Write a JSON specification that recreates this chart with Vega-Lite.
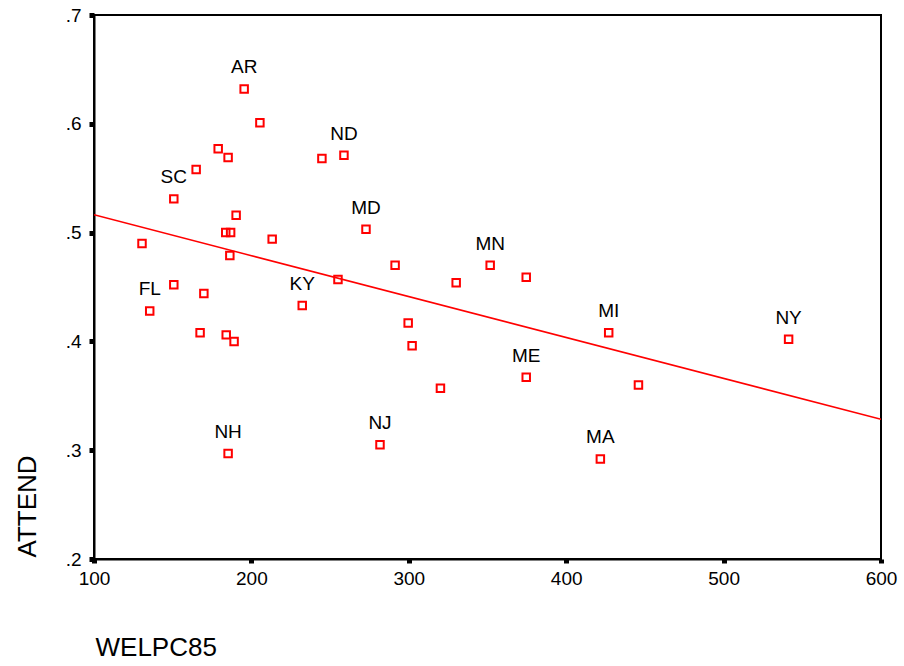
{
  "$schema": "https://vega.github.io/schema/vega-lite/v6.json",
  "width": 787,
  "height": 544,
  "autosize": {"type": "none"},
  "padding": {"left": 94, "top": 15, "right": 23, "bottom": 107},
  "background": "white",
  "config": {
    "view": {"stroke": "black", "strokeWidth": 2},
    "font": "Liberation Sans"
  },
  "data": {
    "values": [
      {"WELPC85": 195.4, "ATTEND": 0.632, "state": "AR"},
      {"WELPC85": 205.4, "ATTEND": 0.601, "state": ""},
      {"WELPC85": 178.9, "ATTEND": 0.577, "state": ""},
      {"WELPC85": 185.2, "ATTEND": 0.569, "state": ""},
      {"WELPC85": 164.9, "ATTEND": 0.558, "state": ""},
      {"WELPC85": 150.7, "ATTEND": 0.531, "state": "SC"},
      {"WELPC85": 244.8, "ATTEND": 0.568, "state": ""},
      {"WELPC85": 258.8, "ATTEND": 0.571, "state": "ND"},
      {"WELPC85": 190.3, "ATTEND": 0.516, "state": ""},
      {"WELPC85": 183.7, "ATTEND": 0.5, "state": ""},
      {"WELPC85": 186.8, "ATTEND": 0.5, "state": ""},
      {"WELPC85": 213.2, "ATTEND": 0.494, "state": ""},
      {"WELPC85": 130.5, "ATTEND": 0.49, "state": ""},
      {"WELPC85": 186.3, "ATTEND": 0.479, "state": ""},
      {"WELPC85": 135.4, "ATTEND": 0.428, "state": "FL"},
      {"WELPC85": 150.7, "ATTEND": 0.452, "state": ""},
      {"WELPC85": 169.8, "ATTEND": 0.444, "state": ""},
      {"WELPC85": 167.4, "ATTEND": 0.408, "state": ""},
      {"WELPC85": 184.0, "ATTEND": 0.406, "state": ""},
      {"WELPC85": 189.0, "ATTEND": 0.4, "state": ""},
      {"WELPC85": 232.3, "ATTEND": 0.433, "state": "KY"},
      {"WELPC85": 255.0, "ATTEND": 0.457, "state": ""},
      {"WELPC85": 185.2, "ATTEND": 0.297, "state": "NH"},
      {"WELPC85": 272.8, "ATTEND": 0.503, "state": "MD"},
      {"WELPC85": 291.3, "ATTEND": 0.47, "state": ""},
      {"WELPC85": 330.1, "ATTEND": 0.454, "state": ""},
      {"WELPC85": 351.7, "ATTEND": 0.47, "state": "MN"},
      {"WELPC85": 374.6, "ATTEND": 0.459, "state": ""},
      {"WELPC85": 299.6, "ATTEND": 0.417, "state": ""},
      {"WELPC85": 302.1, "ATTEND": 0.396, "state": ""},
      {"WELPC85": 427.0, "ATTEND": 0.408, "state": "MI"},
      {"WELPC85": 541.3, "ATTEND": 0.402, "state": "NY"},
      {"WELPC85": 374.6, "ATTEND": 0.367, "state": "ME"},
      {"WELPC85": 445.9, "ATTEND": 0.36, "state": ""},
      {"WELPC85": 421.7, "ATTEND": 0.292, "state": "MA"},
      {"WELPC85": 320.1, "ATTEND": 0.357, "state": ""},
      {"WELPC85": 281.7, "ATTEND": 0.305, "state": "NJ"}
    ]
  },
  "layer": [
    {
      "transform": [{"regression": "ATTEND", "on": "WELPC85", "extent": [100, 600]}],
      "mark": {"type": "line", "color": "#ff0000", "strokeWidth": 1.5, "clip": true},
      "encoding": {
        "x": {"field": "WELPC85", "type": "quantitative", "scale": {"domain": [100, 600], "nice": false, "zero": false}},
        "y": {"field": "ATTEND", "type": "quantitative", "scale": {"domain": [0.2, 0.7], "nice": false, "zero": false}}
      }
    },
    {
      "mark": {"type": "point", "shape": "square", "filled": false, "color": "#ff0000", "strokeWidth": 2, "size": 56, "opacity": 1},
      "encoding": {
        "x": {
          "field": "WELPC85", "type": "quantitative",
          "scale": {"domain": [100, 600], "nice": false, "zero": false},
          "axis": {
            "title": "WELPC85",
            "values": [100, 200, 300, 400, 500, 600],
            "format": "d",
            "grid": false,
            "labelFlush": false,
            "domainColor": "black",
            "domainWidth": 2,
            "tickColor": "black",
            "tickSize": 4,
            "tickWidth": 5,
            "labelFontSize": 19,
            "labelColor": "black",
            "labelPadding": 6,
            "titleFontSize": 26,
            "titleFontWeight": "normal",
            "titleColor": "black",
            "titleX": 1,
            "titleY": 96,
            "titleAlign": "left",
            "titleBaseline": "alphabetic"
          }
        },
        "y": {
          "field": "ATTEND", "type": "quantitative",
          "scale": {"domain": [0.2, 0.7], "nice": false, "zero": false},
          "axis": {
            "title": "ATTEND",
            "values": [0.2, 0.3, 0.4, 0.5, 0.6, 0.7],
            "labelExpr": "substring(format(datum.value, '.1f'), 1)",
            "grid": false,
            "labelFlush": false,
            "domainColor": "black",
            "domainWidth": 2,
            "tickColor": "black",
            "tickSize": 5,
            "tickWidth": 5,
            "labelFontSize": 19,
            "labelColor": "black",
            "labelPadding": 8,
            "titleFontSize": 26,
            "titleFontWeight": "normal",
            "titleColor": "black",
            "titleAngle": 270,
            "titleX": -59,
            "titleY": 542,
            "titleAlign": "left",
            "titleBaseline": "alphabetic"
          }
        }
      }
    },
    {
      "transform": [{"filter": "datum.state != ''"}],
      "mark": {"type": "text", "dy": -15.5, "fontSize": 19, "baseline": "alphabetic", "align": "center", "color": "black"},
      "encoding": {
        "x": {"field": "WELPC85", "type": "quantitative"},
        "y": {"field": "ATTEND", "type": "quantitative"},
        "text": {"field": "state"}
      }
    }
  ]
}
